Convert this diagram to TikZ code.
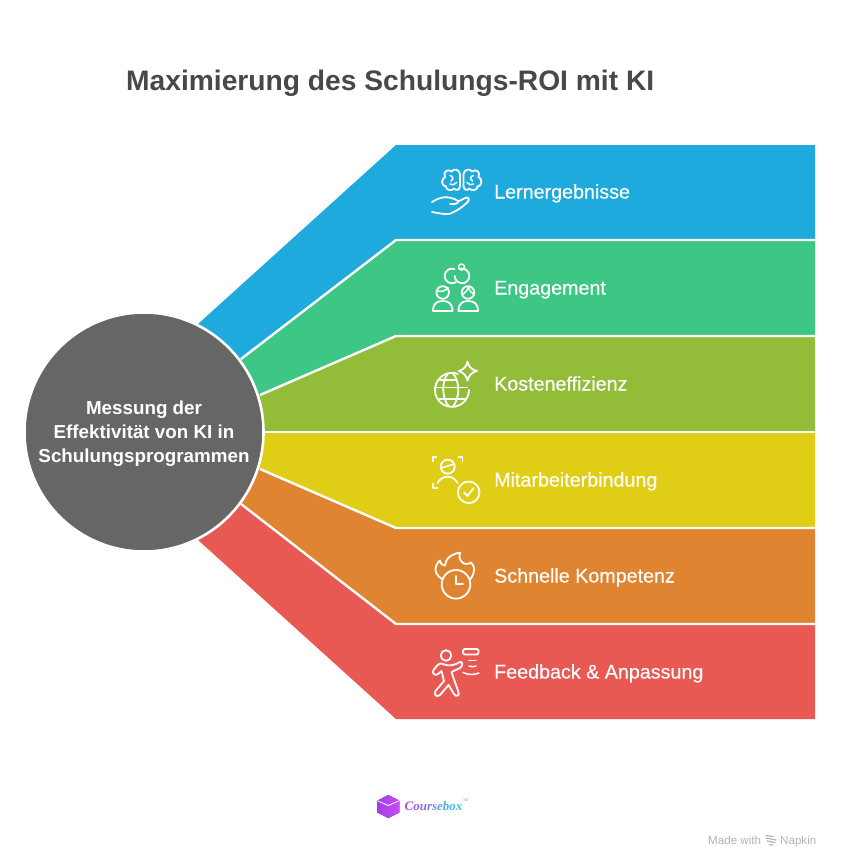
\documentclass[tikz,border=0pt]{standalone}
\usepackage{fontspec}
\setmainfont{Liberation Sans}
\newfontfamily\logofont{Liberation Serif}
\newfontfamily\labfont[FakeBold=0.3]{Liberation Sans}
\definecolor{cblue}{HTML}{1EAADC}
\definecolor{cgreen}{HTML}{3EC685}
\definecolor{colive}{HTML}{93BC39}
\definecolor{cyellow}{HTML}{E0CD15}
\definecolor{corange}{HTML}{DF8430}
\definecolor{cred}{HTML}{E85954}
\definecolor{chub}{HTML}{666666}
\definecolor{ctitle}{HTML}{484848}
\definecolor{cmade}{HTML}{B4B4B4}
\definecolor{cubea}{HTML}{A23EE8}
\definecolor{cubeb}{HTML}{C94CF0}
\tikzset{
  x=1pt,y=-1pt,
  sep/.style={draw=white,line width=2.4pt,line join=miter},
  hub/.style={circle,fill=chub,draw=white,line width=2.6pt,minimum size=239pt,inner sep=0pt},
  hubtext/.style={text=white,align=center,font=\fontsize{18.8}{24}\selectfont\bfseries,inner sep=0pt},
  lab/.style={text=white,anchor=base west,inner sep=0pt,font=\labfont\fontsize{19.7}{22}\selectfont},
  ico/.style={draw=white,line width=1.8pt,line cap=round,line join=round},
  icot/.style={ico,line width=1.5pt},
  made/.style={text=cmade,inner sep=0pt,anchor=base west,font=\fontsize{11.6}{13}\selectfont},
}
\begin{document}
\begin{tikzpicture}
\useasboundingbox (0,0) rectangle (841,868);
\fill[white] (0,0) rectangle (841,868);
\node[anchor=west,inner sep=0pt,text=ctitle,font=\fontsize{28.2}{32}\selectfont\bfseries] (title) at (126,83) {Maximierung des Schulungs-ROI mit KI};
% coordinates
\coordinate (c) at (144,432);
\coordinate (p0) at (198,324); \coordinate (k0) at (396,145); \coordinate (r0) at (815,145);
\coordinate (p1) at (241,359); \coordinate (k1) at (396,240); \coordinate (r1) at (815,240);
\coordinate (p2) at (260,395); \coordinate (k2) at (396,336); \coordinate (r2) at (815,336);
\coordinate (p3) at (264,432); \coordinate (k3) at (396,432); \coordinate (r3) at (815,432);
\coordinate (p4) at (260,469); \coordinate (k4) at (396,528); \coordinate (r4) at (815,528);
\coordinate (p5) at (241,504); \coordinate (k5) at (396,624); \coordinate (r5) at (815,624);
\coordinate (p6) at (198,540); \coordinate (k6) at (396,719); \coordinate (r6) at (815,719);
\fill[cblue]   (c)--(p0)--(k0)--(r0)--(r1)--(k1)--(p1)--cycle;
\fill[cgreen]  (c)--(p1)--(k1)--(r1)--(r2)--(k2)--(p2)--cycle;
\fill[colive]  (c)--(p2)--(k2)--(r2)--(r3)--(k3)--(p3)--cycle;
\fill[cyellow] (c)--(p3)--(k3)--(r3)--(r4)--(k4)--(p4)--cycle;
\fill[corange] (c)--(p4)--(k4)--(r4)--(r5)--(k5)--(p5)--cycle;
\fill[cred]    (c)--(p5)--(k5)--(r5)--(r6)--(k6)--(p6)--cycle;
\draw[sep] (p1)--(k1)--(r1);
\draw[sep] (p2)--(k2)--(r2);
\draw[sep] (p3)--(k3)--(r3);
\draw[sep] (p4)--(k4)--(r4);
\draw[sep] (p5)--(k5)--(r5);
\node[hub] (hubc) at (c) {};
\node[hubtext] (hubt) at (144,434) {Messung der\\Effektivität von KI in\\Schulungsprogrammen};
% labels
\node[lab] (l1) at (494,198.5) {Lernergebnisse};
\node[lab] (l2) at (494,294.5) {Engagement};
\node[lab] (l3) at (494,390.5) {Kosteneffizienz};
\node[lab] (l4) at (494,486.5) {Mitarbeiterbindung};
\node[lab] (l5) at (494,582.5) {Schnelle Kompetenz};
\node[lab] (l6) at (494,678.5) {Feedback \& Anpassung};
% icon 1: brain and hand
\draw[ico] (460,174.5) .. controls (460,169.5) and (453.5,168) .. (451.5,171.5) .. controls (448,168.5) and (442.5,171.5) .. (445,177) .. controls (441,179) and (441,186) .. (446,186.5) .. controls (446,190.5) and (452,191.5) .. (454,188.5) .. controls (456,191) and (460,190) .. (460,186) -- cycle;
\draw[ico] (463.5,174.5) .. controls (463.5,169.5) and (470,168) .. (472,171.5) .. controls (475.5,168.5) and (481,171.5) .. (478.5,177) .. controls (482.5,179) and (482.5,186) .. (477.5,186.5) .. controls (477.5,190.5) and (471.5,191.5) .. (469.5,188.5) .. controls (467.5,191) and (463.5,190) .. (463.5,186) -- cycle;
\draw[icot] (450,175.5) .. controls (453,176) and (454,179) .. (451,181);
\draw[icot] (450,184) .. controls (452,185.5) and (455,185) .. (456.5,182.5);
\draw[icot] (473.5,175.5) .. controls (470.5,176) and (469.5,179) .. (472.5,181);
\draw[icot] (473.5,184) .. controls (471.5,185.5) and (468.5,185) .. (467,182.5);
\draw[ico] (432,202) .. controls (438,198) and (444,196.5) .. (449,197.5) .. controls (454,198.5) and (457.5,200) .. (458,201.5) .. controls (458.5,203.5) and (455,204.5) .. (450,204);
\draw[ico] (458,201.5) -- (465,198) .. controls (468,196.5) and (470,199) .. (468,201.5) .. controls (463,207) and (455,212) .. (449,214) .. controls (444,214.5) and (438,213) .. (432,212);
% icon 2: rings and two persons
\draw[ico] (454.5,269.1) arc[start angle=-70,end angle=-300,radius=7.3];
\draw[ico] (459.5,269.1) arc[start angle=-110,end angle=180,radius=7.3];
\draw[icot] (461.5,267) circle[radius=3];
\draw[ico] (442.7,292.5) circle[radius=6.3];
\draw[icot] (437,291) .. controls (441,292) and (446,291) .. (448,287.5);
\draw[ico] (433,311) .. controls (433,303.5) and (437,301) .. (442.7,301) .. controls (448.5,301) and (452.5,303.5) .. (452.5,311) -- cycle;
\draw[ico] (468,292.5) circle[radius=6.3];
\draw[icot] (462,294.5) .. controls (465,293) and (468,290) .. (468.5,286.5);
\draw[icot] (474,294.5) .. controls (471,293) and (469,290) .. (468.5,286.5);
\draw[ico] (458.5,311) .. controls (458.5,303.5) and (462.5,301) .. (468,301) .. controls (474,301) and (478,303.5) .. (478,311) -- cycle;
% icon 3: globe and star
\draw[ico] (457.8,373.9) arc[start angle=-70,end angle=-360,radius=17];
\draw[ico] (435.5,387.5) -- (467,387.5);
\draw[icot] (438,380) -- (456,380);
\draw[icot] (439,399) -- (465,399);
\draw[ico] (448,373.5) .. controls (441.5,381) and (441.5,398) .. (449,406.5);
\draw[ico] (453,373.5) .. controls (460,381) and (460,398) .. (453,406.5);
\draw[ico] (467.5,361.5) .. controls (468.3,366.5) and (472,370.2) .. (477,371) .. controls (472,372) and (468.3,376) .. (467.5,380.7) .. controls (466.8,376) and (463,372) .. (458.5,371) .. controls (463,370.2) and (466.8,366.5) .. (467.5,361.5) -- cycle;
% icon 4: person, frame and check
\draw[ico,line cap=butt] (437,457) -- (433,457) -- (433,461.5);
\draw[ico,line cap=butt] (458,457) -- (462.5,457) -- (462.5,461.5);
\draw[ico,line cap=butt] (433,483) -- (433,488) -- (438,488);
\draw[ico] (447.7,466.7) circle[radius=7];
\draw[icot] (441.5,468) -- (454,464);
\draw[ico] (437.5,483) .. controls (440,478.5) and (444,476.7) .. (447.7,476.7) .. controls (451.5,476.7) and (455.5,478.5) .. (457.5,483);
\draw[ico] (468.7,492.3) circle[radius=10.8];
\draw[ico] (464,492.5) -- (467.5,496) -- (473.5,488);
% icon 5: flame and clock
\draw[ico] (456,584.3) circle[radius=14.3];
\draw[ico] (456,576) -- (456,584.3) -- (463,584.3);
\draw[ico] (442,579) .. controls (437,576) and (434,571) .. (436,566) .. controls (437,563.5) and (439,561) .. (440,560.5) .. controls (440.5,564) and (442.5,565.5) .. (445,565.5) .. controls (445,559) and (452,553.5) .. (460,552.7) .. controls (458.5,557) and (460,560.5) .. (463,563) .. controls (465,564.5) and (469,564) .. (471,562.5) .. controls (475,566) and (475.5,572) .. (470.5,579);
% icon 6: runner
\draw[ico] (446,655.5) circle[radius=5.3];
\draw[ico] (460,662) .. controls (455,665) and (450,666) .. (446,665) -- (441,663.5) .. controls (438,663.5) and (436,667) .. (433.5,670) .. controls (431.5,673) and (435,676.5) .. (438,674) -- (441.5,671) -- (444,681) -- (435.5,691) .. controls (433,695) and (437,697.5) .. (440,695) -- (448.5,685) -- (454,694) .. controls (456,697.5) and (460,695.5) .. (458.5,692) -- (453.5,678) -- (451.5,672) -- (460,668) .. controls (463,666) and (463,661) .. (460,662) -- cycle;
\draw[ico,rounded corners=1.5pt] (463,649) rectangle (478.5,654.5);
\draw[icot] (469,660.5) -- (476,660.5);
\draw[icot] (469,666) .. controls (471.5,667) and (474,667) .. (476,666);
\draw[icot] (463,672.5) .. controls (468,675) and (474,675) .. (479,673);
% logo
\fill[left color=cubea,right color=cubeb] (388.3,795) -- (399.3,800.7) -- (399.3,812.5) -- (388.3,818) -- (377.3,812.5) -- (377.3,800.7) -- cycle;
\draw[white,line width=.8pt] (377.3,800.7) -- (388.3,805.5) -- (399.3,800.7);
\node[inner sep=0pt,anchor=west,font=\logofont\fontsize{13}{14}\selectfont\bfseries\itshape] (logo) at (404.5,806) {\textcolor[HTML]{A34CEB}{C}\textcolor[HTML]{9A5BEB}{o}\textcolor[HTML]{8E6CEB}{u}\textcolor[HTML]{7F7DEA}{r}\textcolor[HTML]{718CE8}{s}\textcolor[HTML]{629CE6}{e}\textcolor[HTML]{53ACE4}{b}\textcolor[HTML]{46BBE2}{o}\textcolor[HTML]{3CC8DD}{x}};
\node[inner sep=0pt,anchor=west,text=cyan!60!gray,font=\fontsize{3.5}{4}\selectfont] (tm) at (463,800) {TM};
% made with
\node[made] (mw) at (708,844) {Made with};
\draw[cmade,line width=1.2pt,line cap=round] (766,835.5) -- (773,836.5) (766,838) -- (776,840) (767,841) -- (775,842.5) (769.5,844.5) -- (773,845);
\node[made] (np) at (780,844) {Napkin};
\end{tikzpicture}
\end{document}
